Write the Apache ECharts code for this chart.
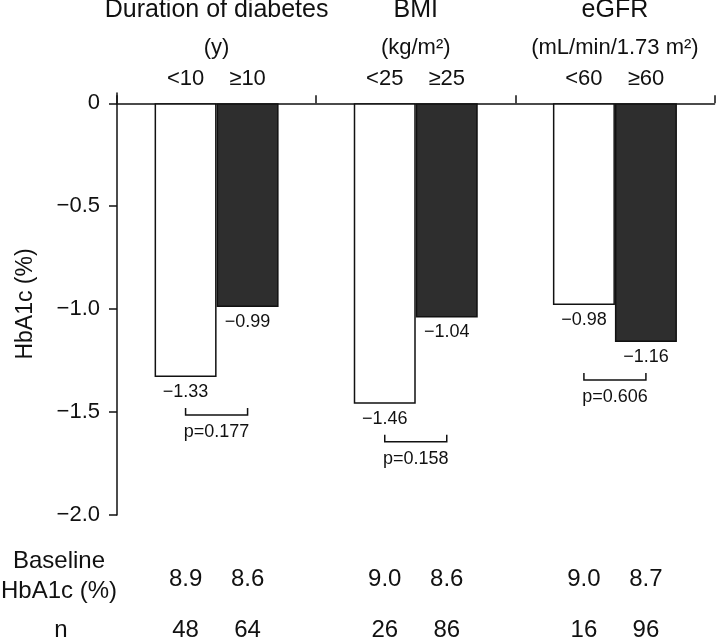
<!DOCTYPE html>
<html>
<head>
<meta charset="utf-8">
<script src="https://cdn.jsdelivr.net/npm/echarts@6/dist/echarts.min.js"></script>
<style>html,body{margin:0;padding:0;background:#fff;}#c{width:716px;height:640px;}</style>
</head>
<body>
<div id="c"></div>
<script>
// ---- data ----
const groups = ['Duration of diabetes', 'BMI', 'eGFR'];
const units = ['(y)', '(kg/m²)', '(mL/min/1.73 m²)'];
const lowLabels = ['<10', '<25', '<60'];
const highLabels = ['≥10', '≥25', '≥60'];
const lowValues = [-1.33, -1.46, -0.98];
const highValues = [-0.99, -1.04, -1.16];
const pValues = ['p=0.177', 'p=0.158', 'p=0.606'];
const baselineLow = ['8.9', '9.0', '9.0'];
const baselineHigh = ['8.6', '8.6', '8.7'];
const nLow = ['48', '26', '16'];
const nHigh = ['64', '86', '96'];
const yMin = -2, yMax = 0, yInterval = 0.5;

// ---- style ----
const FONT = 'Liberation Sans, Arial, Helvetica, sans-serif';
const BAR_W = 62;
const minus = s => String(s).replace('-', '\u2212');

const chart = echarts.init(document.getElementById('c'), null, {renderer: 'canvas'});

function txt(text, x, y, size) {
  return {type: 'text', style: {text: text, x: x, y: y, align: 'center', verticalAlign: 'middle',
    font: size + 'px ' + FONT, fill: '#111'}};
}

function renderGroup(params, api) {
  const i = api.value(0);
  const c = api.coord([i, 0]);
  const cx = c[0];
  const xl = cx - BAR_W / 2, xh = cx + BAR_W / 2;
  const yl = api.coord([i, lowValues[i]])[1];
  const yh = api.coord([i, highValues[i]])[1];
  const B = Math.max(yl, yh);
  const ch = [];
  ch.push(txt(groups[i], cx, 10, 25));
  ch.push(txt(units[i], cx, 48, 22));
  ch.push(txt(lowLabels[i], xl, 79, 22));
  ch.push(txt(highLabels[i], xh, 79, 22));
  ch.push(txt(minus(lowValues[i].toFixed(2)), xl, yl + 15, 18));
  ch.push(txt(minus(highValues[i].toFixed(2)), xh, yh + 15, 18));
  ch.push({type: 'polyline', shape: {points: [[xl, B + 31], [xl, B + 38], [xh, B + 38], [xh, B + 31]]},
    style: {stroke: '#111', lineWidth: 1.5, fill: null}});
  ch.push(txt(pValues[i], cx, B + 55, 18));
  ch.push(txt(baselineLow[i], xl, 579, 24));
  ch.push(txt(baselineHigh[i], xh, 579, 24));
  ch.push(txt(nLow[i], xl, 630, 24));
  ch.push(txt(nHigh[i], xh, 630, 24));
  return {type: 'group', children: ch};
}

const option = {
  backgroundColor: '#fff',
  animation: false,
  grid: {left: 117, right: 1.5, top: 93, bottom: 125, containLabel: false},
  xAxis: {
    type: 'category',
    data: groups,
    position: 'top',
    axisLine: {show: true, onZero: true, lineStyle: {color: '#111', width: 1.5}},
    axisTick: {show: true, length: 8, alignWithLabel: false, lineStyle: {color: '#111', width: 1.5}},
    axisLabel: {show: false},
    splitLine: {show: false}
  },
  yAxis: {
    type: 'value',
    min: yMin,
    max: yMax + 0.05,
    interval: yInterval,
    name: 'HbA1c (%)',
    nameLocation: 'middle',
    nameRotate: 90,
    nameGap: 80,
    nameTextStyle: {fontSize: 23, fontFamily: FONT, color: '#111'},
    axisLine: {show: true, lineStyle: {color: '#111', width: 1.5}},
    axisTick: {show: true, length: 8, lineStyle: {color: '#111', width: 1.5}},
    axisLabel: {fontSize: 22, fontFamily: FONT, color: '#111', margin: 17,
      showMaxLabel: false,
      formatter: v => (Math.abs(v) < 1e-9 ? '0' : (v > 0 ? '' : minus(v.toFixed(1))))},
    splitLine: {show: false}
  },
  series: [
    {type: 'bar', data: lowValues, barWidth: BAR_W, barGap: '0%',
      itemStyle: {color: '#ffffff', borderColor: '#111', borderWidth: 1.5}},
    {type: 'bar', data: highValues, barWidth: BAR_W, barGap: '0%',
      itemStyle: {color: '#2e2e2e', borderColor: '#111', borderWidth: 1.5}},
    {type: 'custom', clip: false, z: 10, data: groups.map((g, i) => [i, 0]),
      encode: {x: 0, y: 1}, renderItem: renderGroup, silent: true}
  ],
  graphic: [
    {type: 'text', x: 59, y: 561, style: {text: 'Baseline', align: 'center', verticalAlign: 'middle', font: '24px ' + FONT, fill: '#111'}},
    {type: 'text', x: 59, y: 591, style: {text: 'HbA1c (%)', align: 'center', verticalAlign: 'middle', font: '24px ' + FONT, fill: '#111'}},
    {type: 'text', x: 61, y: 630, style: {text: 'n', align: 'center', verticalAlign: 'middle', font: '24px ' + FONT, fill: '#111'}}
  ]
};
chart.setOption(option);
</script>
</body>
</html>
